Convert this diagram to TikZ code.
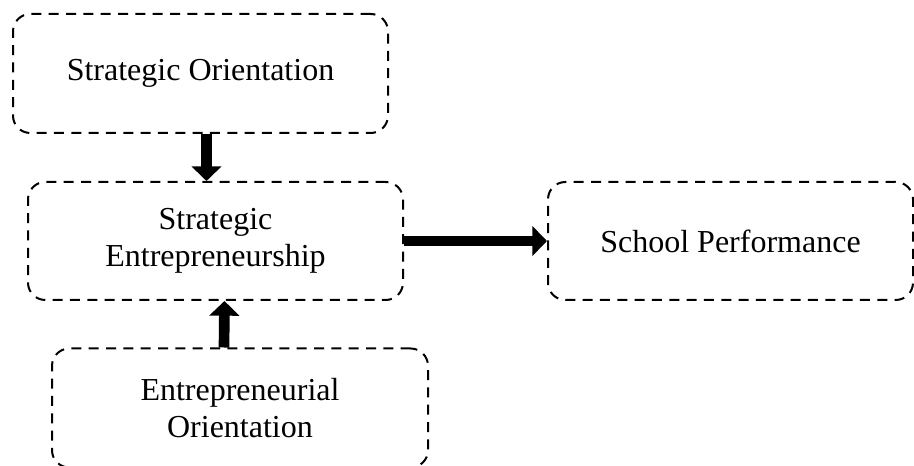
\documentclass[tikz,border=0pt]{standalone}
\usepackage{fontspec}
\setmainfont{Liberation Serif}
\usetikzlibrary{arrows.meta}

\tikzset{
  box/.style={draw, line width=1.5pt, dash pattern=on 7.5pt off 5.5pt,
    rounded corners=13pt, align=center, font=\fontsize{24}{27.5}\selectfont},
  bigarrow/.style={line width=8pt, -{Triangle[length=11pt,width=22pt]}}
}

\begin{document}
\begin{tikzpicture}[x=0.75pt,y=-0.75pt]

\clip (0,0) rectangle (914,466);

\node[box, minimum width=281.25pt, minimum height=89.25pt] (so) at (200.5,73.5) {Strategic Orientation};
\node[box, minimum width=281.25pt, minimum height=88.5pt] (se) at (215.5,241) {Strategic\\Entrepreneurship};
\node[box, minimum width=273.75pt, minimum height=88.5pt] (sp) at (730.5,241) {School Performance};
\node[box, minimum width=282pt, minimum height=89.25pt] (eo) at (240,408) {Entrepreneurial\\Orientation};

\draw[bigarrow] ([xshift=4.5pt]so.south) -- ([xshift=-6.75pt]se.north);
\draw[bigarrow] (se.east) -- (sp.west);
\draw[bigarrow] ([xshift=-12pt]eo.north) -- ([xshift=6.75pt]se.south);

\end{tikzpicture}
\end{document}
